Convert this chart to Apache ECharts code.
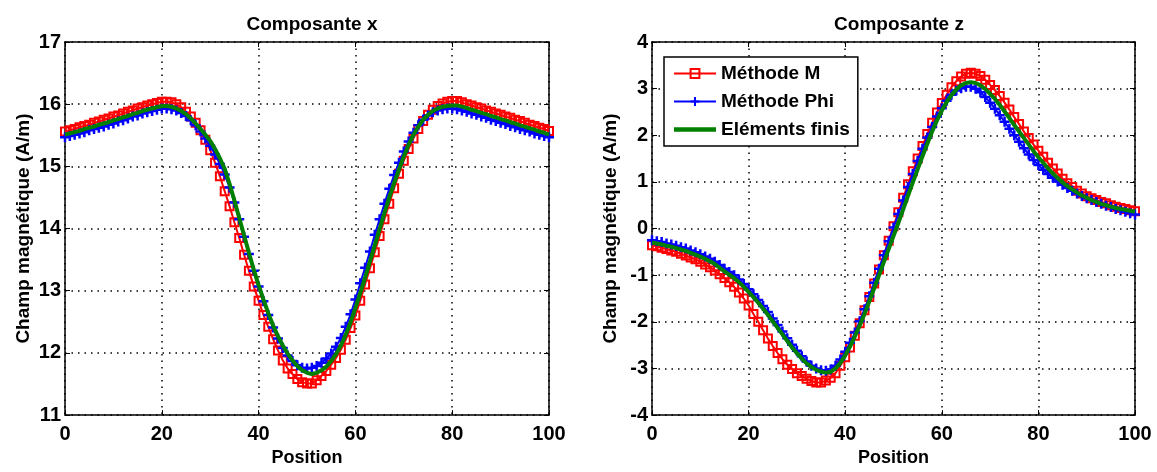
<!DOCTYPE html>
<html>
<head>
<meta charset="utf-8">
<script src="https://cdn.jsdelivr.net/npm/echarts@6/dist/echarts.min.js"></script>
<style>
html,body{margin:0;padding:0;background:#fff;}
#chart{width:1157px;height:472px;}
</style>
</head>
<body>
<div id="chart"></div>
<script>
// ---- Data ----
const positions = [0,1,2,3,4,5,6,7,8,9,10,11,12,13,14,15,16,17,18,19,20,21,22,23,24,25,26,27,28,29,30,31,32,33,34,35,36,37,38,39,40,41,42,43,44,45,46,47,48,49,50,51,52,53,54,55,56,57,58,59,60,61,62,63,64,65,66,67,68,69,70,71,72,73,74,75,76,77,78,79,80,81,82,83,84,85,86,87,88,89,90,91,92,93,94,95,96,97,98,99,100];

const seriesNames = ['Méthode M', 'Méthode Phi', 'Eléments finis'];
const titles = ['Composante x', 'Composante z'];
const xTicks = [0, 20, 40, 60, 80, 100];
const yTicksX = [11, 12, 13, 14, 15, 16, 17];
const yTicksZ = [-4, -3, -2, -1, 0, 1, 2, 3, 4];

// Composante x
const compXMethodeM = [
15.56,15.58,15.60,15.63,15.65,15.67,15.70,15.72,15.75,15.77,15.80,15.82,15.85,15.88,15.90,15.93,15.95,15.98,16.00,16.02,16.04,
16.04,16.03,16.00,15.95,15.88,15.80,15.70,15.58,15.43,15.26,15.06,14.84,14.60,14.36,14.10,13.85,13.58,13.32,13.07,12.84,
12.61,12.42,12.22,12.04,11.88,11.75,11.66,11.58,11.53,11.51,11.51,11.56,11.63,11.71,11.81,11.92,12.05,12.21,12.40,12.60,
12.84,13.10,13.36,13.62,13.88,14.15,14.40,14.65,14.88,15.09,15.28,15.45,15.60,15.73,15.83,15.91,15.97,16.01,16.04,16.05,
16.05,16.03,16.00,15.98,15.95,15.93,15.90,15.88,15.85,15.83,15.80,15.78,15.75,15.73,15.70,15.67,15.65,15.62,15.60,15.57];
const compXMethodePhi = [
15.47,15.49,15.51,15.53,15.55,15.58,15.60,15.62,15.64,15.67,15.69,15.72,15.74,15.77,15.80,15.82,15.85,15.87,15.89,15.91,15.93,
15.93,15.92,15.90,15.86,15.81,15.74,15.66,15.56,15.45,15.33,15.19,15.04,14.87,14.66,14.42,14.15,13.87,13.59,13.32,13.07,
12.83,12.61,12.41,12.23,12.08,11.96,11.87,11.80,11.76,11.75,11.76,11.79,11.84,11.91,11.99,12.10,12.24,12.42,12.62,12.86,
13.12,13.37,13.63,13.90,14.15,14.40,14.64,14.86,15.06,15.24,15.40,15.54,15.66,15.75,15.82,15.87,15.90,15.92,15.93,15.93,
15.92,15.90,15.88,15.85,15.83,15.80,15.78,15.75,15.73,15.70,15.68,15.65,15.63,15.60,15.58,15.56,15.53,15.51,15.49,15.47];
const compXElementsFinis = [
15.51,15.53,15.55,15.57,15.60,15.62,15.64,15.67,15.69,15.71,15.74,15.76,15.79,15.81,15.84,15.86,15.89,15.91,15.93,15.95,15.97,
15.97,15.96,15.93,15.89,15.84,15.77,15.69,15.60,15.51,15.41,15.28,15.13,14.96,14.72,14.45,14.17,13.89,13.61,13.34,13.09,
12.86,12.64,12.44,12.27,12.12,11.99,11.88,11.79,11.72,11.68,11.66,11.68,11.72,11.78,11.87,11.98,12.12,12.29,12.49,12.72,
12.96,13.21,13.47,13.73,13.99,14.25,14.50,14.73,14.95,15.16,15.35,15.51,15.64,15.75,15.83,15.89,15.93,15.96,15.97,15.98,
15.98,15.96,15.94,15.91,15.89,15.86,15.84,15.81,15.79,15.76,15.74,15.71,15.69,15.66,15.64,15.61,15.59,15.56,15.54,15.51];

// Composante z
const compZMethodeM = [
-0.36,-0.38,-0.41,-0.44,-0.47,-0.50,-0.54,-0.58,-0.62,-0.66,-0.71,-0.77,-0.83,-0.90,-0.98,-1.06,-1.15,-1.25,-1.37,-1.50,-1.65,
-1.83,-2.00,-2.18,-2.36,-2.52,-2.67,-2.80,-2.92,-3.01,-3.10,-3.16,-3.22,-3.27,-3.30,-3.30,-3.26,-3.20,-3.10,-2.94,-2.76,
-2.55,-2.30,-2.03,-1.75,-1.47,-1.18,-0.88,-0.57,-0.26,0.05,0.35,0.66,0.95,1.23,1.50,1.77,2.03,2.27,2.49,2.69,
2.87,3.03,3.16,3.26,3.32,3.34,3.32,3.27,3.19,3.08,2.97,2.84,2.70,2.55,2.39,2.24,2.08,1.94,1.80,1.67,
1.54,1.41,1.29,1.18,1.07,0.97,0.89,0.81,0.75,0.69,0.65,0.61,0.57,0.54,0.50,0.47,0.44,0.42,0.39,0.37];
const compZMethodePhi = [
-0.25,-0.27,-0.29,-0.32,-0.34,-0.37,-0.40,-0.43,-0.47,-0.51,-0.55,-0.60,-0.65,-0.71,-0.78,-0.86,-0.93,-1.00,-1.09,-1.19,-1.30,
-1.41,-1.53,-1.66,-1.79,-1.93,-2.07,-2.21,-2.35,-2.49,-2.62,-2.74,-2.85,-2.94,-3.00,-3.04,-3.05,-3.02,-2.94,-2.81,-2.64,
-2.45,-2.23,-1.99,-1.73,-1.45,-1.16,-0.86,-0.57,-0.27,0.02,0.31,0.60,0.89,1.17,1.45,1.71,1.95,2.18,2.40,2.58,
2.74,2.87,2.96,3.01,3.04,3.04,3.00,2.92,2.82,2.70,2.57,2.43,2.29,2.14,2.00,1.86,1.72,1.59,1.47,1.36,
1.26,1.17,1.09,1.01,0.94,0.87,0.81,0.75,0.70,0.65,0.61,0.57,0.53,0.49,0.46,0.42,0.39,0.36,0.33,0.30];
const compZElementsFinis = [
-0.30,-0.32,-0.34,-0.37,-0.39,-0.42,-0.45,-0.48,-0.52,-0.56,-0.60,-0.65,-0.70,-0.76,-0.84,-0.92,-0.99,-1.06,-1.15,-1.25,-1.36,
-1.47,-1.59,-1.72,-1.85,-1.99,-2.13,-2.27,-2.41,-2.55,-2.67,-2.79,-2.89,-2.97,-3.03,-3.07,-3.09,-3.07,-3.00,-2.88,-2.72,
-2.53,-2.31,-2.08,-1.83,-1.56,-1.28,-1.00,-0.72,-0.44,-0.16,0.12,0.41,0.70,0.99,1.27,1.55,1.82,2.08,2.32,2.53,
2.71,2.86,2.98,3.07,3.12,3.14,3.12,3.07,2.99,2.89,2.78,2.65,2.51,2.37,2.22,2.08,1.94,1.80,1.66,1.53,
1.41,1.29,1.18,1.08,0.99,0.91,0.84,0.77,0.71,0.66,0.61,0.57,0.53,0.50,0.47,0.44,0.42,0.40,0.38,0.36];

// ---- Chart ----
const FONT = '"Liberation Sans", Arial, Helvetica, sans-serif';
const pairs = arr => arr.map((v, i) => [positions[i], v]);

const grids = [
  {left: 65, top: 42, width: 484, height: 381},
  {left: 652, top: 42, width: 483, height: 381}
];

function mainX(gi) {
  return {
    type: 'value', gridIndex: gi, min: xTicks[0], max: xTicks[xTicks.length - 1], interval: 20,
    name: 'Position', nameLocation: 'middle', nameGap: 28,
    nameTextStyle: {fontFamily: FONT, fontWeight: 'bold', fontSize: 18, color: '#000'},
    axisLine: {show: true, onZero: false, lineStyle: {color: '#000', width: 1.5}},
    axisTick: {show: true, inside: true, length: 5, lineStyle: {color: '#000', width: 1}},
    axisLabel: {fontFamily: FONT, fontWeight: 'bold', fontSize: 20, color: '#000', margin: 9},
    splitLine: {show: true, lineStyle: {color: '#000', width: 1.5, type: [1.5, 5]}}
  };
}
function topX(gi) {
  return {
    type: 'value', gridIndex: gi, position: 'top', min: 0, max: 100, interval: 20,
    axisLine: {show: true, onZero: false, lineStyle: {color: '#000', width: 1.5}},
    axisTick: {show: true, inside: true, length: 5, lineStyle: {color: '#000', width: 1}},
    axisLabel: {show: false}, splitLine: {show: false}
  };
}
function mainY(gi, ticks) {
  return {
    type: 'value', gridIndex: gi, min: ticks[0], max: ticks[ticks.length - 1], interval: 1,
    name: 'Champ magnétique (A/m)', nameLocation: 'middle', nameGap: 32,
    nameTextStyle: {fontFamily: FONT, fontWeight: 'bold', fontSize: 19, color: '#000'},
    axisLine: {show: true, onZero: false, lineStyle: {color: '#000', width: 1.5}},
    axisTick: {show: true, inside: true, length: 5, lineStyle: {color: '#000', width: 1}},
    axisLabel: {fontFamily: FONT, fontWeight: 'bold', fontSize: 20, color: '#000', margin: 4, padding: [0, 0, 3, 0]},
    splitLine: {show: true, lineStyle: {color: '#000', width: 1.5, type: [1.5, 5]}}
  };
}
function rightY(gi, ticks) {
  return {
    type: 'value', gridIndex: gi, position: 'right', min: ticks[0], max: ticks[ticks.length - 1], interval: 1,
    axisLine: {show: true, onZero: false, lineStyle: {color: '#000', width: 1.5}},
    axisTick: {show: true, inside: true, length: 5, lineStyle: {color: '#000', width: 1}},
    axisLabel: {show: false}, splitLine: {show: false}
  };
}

function mSeries(xi, yi, data) {
  return {
    name: seriesNames[0], type: 'line', xAxisIndex: xi, yAxisIndex: yi, data: pairs(data),
    symbol: 'rect', symbolSize: 8, showSymbol: true, showAllSymbol: true,
    lineStyle: {color: '#ff0000', width: 2},
    itemStyle: {color: 'rgba(255,255,255,0)', borderColor: '#ff0000', borderWidth: 2},
    emphasis: {disabled: true}, animation: false, z: 2
  };
}
function phiSeries(xi, yi, data) {
  return {
    name: seriesNames[1], type: 'line', xAxisIndex: xi, yAxisIndex: yi, data: pairs(data),
    symbol: 'path://M0,5L10,5M5,0L5,10', symbolSize: 10, showSymbol: true, showAllSymbol: true,
    lineStyle: {color: '#0000ff', width: 2},
    itemStyle: {color: '#0000ff', borderColor: '#0000ff', borderWidth: 2.5},
    emphasis: {disabled: true}, animation: false, z: 3
  };
}
function feSeries(xi, yi, data) {
  return {
    name: seriesNames[2], type: 'line', xAxisIndex: xi, yAxisIndex: yi, data: pairs(data),
    symbol: 'none', showSymbol: false,
    lineStyle: {color: '#008000', width: 4},
    itemStyle: {color: '#008000'},
    emphasis: {disabled: true}, animation: false, z: 4
  };
}

const chart = echarts.init(document.getElementById('chart'), null, {renderer: 'canvas'});
chart.setOption({
  backgroundColor: '#fff',
  animation: false,
  title: [
    {text: titles[0], left: 307, top: 10, textAlign: 'center',
     textStyle: {fontFamily: FONT, fontWeight: 'bold', fontSize: 19, color: '#000'}},
    {text: titles[1], left: 894, top: 10, textAlign: 'center',
     textStyle: {fontFamily: FONT, fontWeight: 'bold', fontSize: 19, color: '#000'}}
  ],
  legend: {
    data: [
      {name: seriesNames[0]},
      {name: seriesNames[1]},
      {name: seriesNames[2], icon: 'path://M0,0L42,0L42,4.5L0,4.5Z', itemStyle: {color: '#008000'}}
    ],
    orient: 'vertical', left: 664, top: 57,
    itemWidth: 42, itemHeight: 11, itemGap: 9,
    padding: [7, 8, 7, 9],
    backgroundColor: '#fff', borderColor: '#000', borderWidth: 1.5,
    textStyle: {fontFamily: FONT, fontWeight: 'bold', fontSize: 19, color: '#000'},
    selectedMode: false
  },
  grid: grids,
  xAxis: [mainX(0), topX(0), mainX(1), topX(1)],
  yAxis: [mainY(0, yTicksX), rightY(0, yTicksX), mainY(1, yTicksZ), rightY(1, yTicksZ)],
  series: [
    mSeries(0, 0, compXMethodeM), phiSeries(0, 0, compXMethodePhi), feSeries(0, 0, compXElementsFinis),
    mSeries(2, 2, compZMethodeM), phiSeries(2, 2, compZMethodePhi), feSeries(2, 2, compZElementsFinis)
  ]
});
</script>
</body>
</html>
